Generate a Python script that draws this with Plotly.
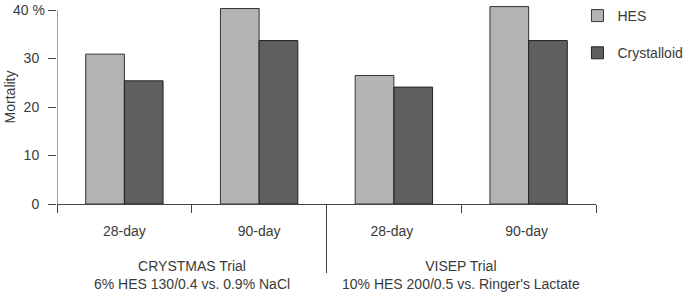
import plotly.graph_objects as go

categories = ["28-day", "90-day", "28-day ", "90-day "]
hes = [30.9, 40.3, 26.5, 40.7]
crystalloid = [25.4, 33.7, 24.1, 33.7]
trials = ["CRYSTMAS Trial<br>6% HES 130/0.4 vs. 0.9% NaCl",
          "VISEP Trial<br>10% HES 200/0.5 vs. Ringer's Lactate"]
ytick_vals = [0, 10, 20, 30, 40]
ytick_text = ["0", "10", "20", "30", ""]
top_label = "40 %"

FONT = "Liberation Sans, Arial, sans-serif"
TXT = "#3a3a3a"
LINE = "#444444"

T, B = 5, 88
PH = 292 - T - B  # plot height in px

fig = go.Figure()
fig.add_trace(go.Bar(x=categories, y=hes, name="HES", legendgroup="a",
                     marker=dict(color="#b3b3b3", line=dict(color="#333333", width=1))))
fig.add_trace(go.Bar(x=categories, y=crystalloid, name="Crystalloid", legendgroup="b",
                     marker=dict(color="#5f5f5f", line=dict(color="#222222", width=1))))

fig.update_layout(
    width=685, height=292,
    margin=dict(l=57, r=89, t=T, b=B, autoexpand=False),
    paper_bgcolor="white", plot_bgcolor="white",
    font=dict(family=FONT, size=14, color=TXT),
    barmode="group", bargap=0.426, bargroupgap=0,
    showlegend=True,
    legend=dict(xref="container", yref="container", x=0.843, y=1.007,
                xanchor="left", yanchor="top",
                tracegroupgap=16, font=dict(size=14, color=TXT),
                bgcolor="rgba(0,0,0,0)"),
    xaxis=dict(type="category", range=[-0.5, 3.5], showline=True, linecolor=LINE,
               linewidth=1, ticks="outside", tickson="boundaries", ticklen=8,
               tickcolor=LINE, showgrid=False, ticklabelstandoff=14, automargin=False,
               tickfont=dict(size=14, color=TXT)),
    yaxis=dict(range=[0, 41.03], showline=False,
               ticks="outside", ticklen=8, tickcolor=LINE, showgrid=False,
               tickvals=ytick_vals, ticktext=ytick_text, zeroline=False,
               ticklabelstandoff=6, automargin=False),
)

# y axis line from 0 to 40
fig.add_shape(type="line", xref="x", yref="y", x0=-0.5, x1=-0.5, y0=0, y1=40,
              line=dict(color=LINE, width=1), layer="above")

fig.add_annotation(x=-0.0186, y=40, xref="paper", yref="y", text=top_label,
                   xanchor="right", yanchor="middle", showarrow=False,
                   font=dict(size=14, color=TXT))

fig.add_annotation(x=-0.087, y=22, xref="paper", yref="y", text="Mortality",
                   textangle=-90, xanchor="center", yanchor="middle", showarrow=False,
                   font=dict(size=14, color=TXT))

for i, t in enumerate(trials):
    fig.add_annotation(x=0.5 + 2 * i, y=-52.4 / PH, xref="x", yref="paper", text=t,
                       showarrow=False, yanchor="top", font=dict(size=14, color=TXT))

fig.add_shape(type="line", xref="x", yref="paper", x0=1.5, x1=1.5, y0=0, y1=-69 / PH,
              line=dict(color=LINE, width=1))

fig.write_html("out.html", config={"displayModeBar": False},
               post_script="document.body.style.margin='0';document.body.style.overflow='hidden';")
